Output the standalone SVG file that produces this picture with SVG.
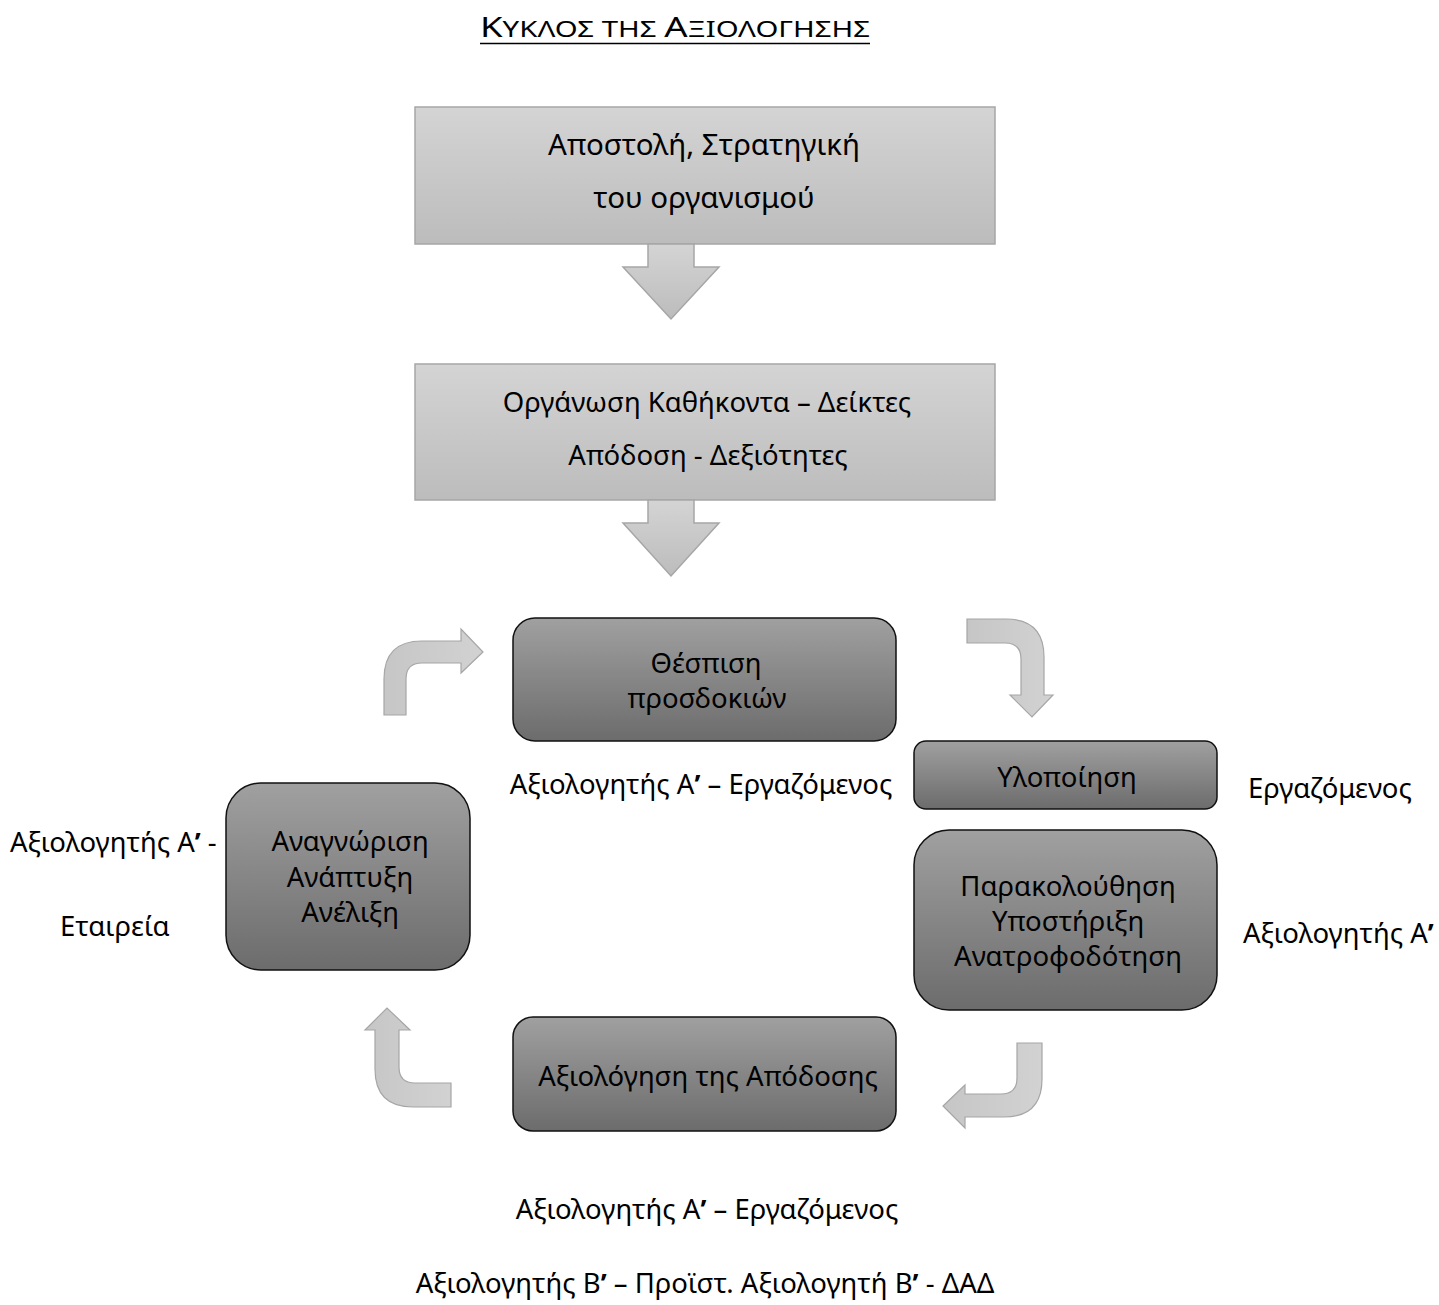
<svg xmlns="http://www.w3.org/2000/svg" width="1439" height="1305" viewBox="0 0 1439 1305">
<defs>
<linearGradient id="gLight" x1="0" y1="0" x2="0" y2="1"><stop offset="0" stop-color="#d4d4d4"/><stop offset="1" stop-color="#bcbcbc"/></linearGradient>
<linearGradient id="gDark" x1="0" y1="0" x2="0" y2="1"><stop offset="0" stop-color="#a0a0a0"/><stop offset="1" stop-color="#6c6c6c"/></linearGradient>
<linearGradient id="gArrow" x1="0" y1="0" x2="1" y2="0"><stop offset="0" stop-color="#c6c6c6"/><stop offset="1" stop-color="#d2d2d2"/></linearGradient>
</defs>
<style>
text{font-family:"Noto Sans","Open Sans","DejaVu Sans",sans-serif;fill:#000;}
.t{font-size:27.5px;text-anchor:middle;}
.t1{font-size:29.5px;text-anchor:middle;}
.l{font-size:27.5px;}
.ap{font-weight:700;}
.light{fill:url(#gLight);stroke:#a6a6a6;stroke-width:1.5;}
.dark{fill:url(#gDark);stroke:#111;stroke-width:1.5;}
.arr{fill:url(#gArrow);stroke:#a6a6a6;stroke-width:1.2;}
</style>
<rect width="1439" height="1305" fill="#fff"/>
<g id="title">
<text x="480" y="37" textLength="390" lengthAdjust="spacingAndGlyphs" style="font-size:28px"><tspan>Κ</tspan><tspan style="font-size:22.5px">ΥΚΛΟΣ ΤΗΣ </tspan><tspan>Α</tspan><tspan style="font-size:22.5px">ΞΙΟΛΟΓΗΣΗΣ</tspan></text>
<line x1="480" y1="43.5" x2="870" y2="43.5" stroke="#000" stroke-width="1.5"/>
</g>
<g id="node-mission">
<rect class="light" x="415" y="107" width="580" height="137"/>
<text class="t1" x="704" y="155">Αποστολή, Στρατηγική</text>
<text class="t1" x="704" y="208">του οργανισμού</text>
</g>
<g id="node-organisation">
<rect class="light" x="415" y="364" width="580" height="136"/>
<text class="t" x="707" y="412">Οργάνωση Καθήκοντα – Δείκτες</text>
<text class="t" x="708" y="465">Απόδοση - Δεξιότητες</text>
</g>
<g id="node-expectations">
<rect class="dark" x="513" y="618" width="383" height="123" rx="22"/>
<text class="t" x="706" y="673">Θέσπιση</text>
<text class="t" x="707" y="708">προσδοκιών</text>
</g>
<g id="node-implementation">
<rect class="dark" x="914" y="741" width="303" height="68" rx="12"/>
<text class="t" x="1067" y="787">Υλοποίηση</text>
</g>
<g id="node-monitoring">
<rect class="dark" x="914" y="830" width="303" height="180" rx="35"/>
<text class="t" x="1068" y="896">Παρακολούθηση</text>
<text class="t" x="1068" y="931">Υποστήριξη</text>
<text class="t" x="1068" y="966">Ανατροφοδότηση</text>
</g>
<g id="node-evaluation">
<rect class="dark" x="513" y="1017" width="383" height="114" rx="20"/>
<text class="t" x="708" y="1086">Αξιολόγηση της Απόδοσης</text>
</g>
<g id="node-recognition">
<rect class="dark" x="226" y="783" width="244" height="187" rx="35"/>
<text class="t" x="350" y="851">Αναγνώριση</text>
<text class="t" x="350" y="887">Ανάπτυξη</text>
<text class="t" x="350" y="922">Ανέλιξη</text>
</g>
<g id="labels">
<text class="l" x="701" y="794" text-anchor="middle">Αξιολογητής Α<tspan class="ap">’</tspan> – Εργαζόμενος</text>
<text class="l" x="1248" y="798">Εργαζόμενος</text>
<text class="l" x="10" y="852">Αξιολογητής Α<tspan class="ap">’</tspan> -</text>
<text class="l" x="60" y="936">Εταιρεία</text>
<text class="l" x="1243" y="943">Αξιολογητής Α<tspan class="ap">’</tspan></text>
<text class="l" x="707" y="1219" text-anchor="middle">Αξιολογητής Α<tspan class="ap">’</tspan> – Εργαζόμενος</text>
<text class="l" x="705" y="1293" text-anchor="middle">Αξιολογητής Β<tspan class="ap">’</tspan> – Προϊστ. Αξιολογητή Β<tspan class="ap">’</tspan> - ΔΑΔ</text>
</g>
<g id="connectors">
<path class="light" d="M648,244 L694,244 L694,267 L719,267 L671,319 L623,267 L648,267 Z"/>
<path class="light" d="M648,500 L694,500 L694,523 L719,523 L671,576 L623,523 L648,523 Z"/>
<path class="arr" d="M384,715 L384,679 Q384,641 422,641 L461,641 L461,629 L483,652 L461,673 L461,663 L422,663 Q406,663 406,679 L406,715 Z"/>
<path class="arr" d="M967,619 L1006,619 Q1044,619 1044,657 L1044,695 L1053,695 L1032,717 L1010,695 L1021,695 L1021,659 Q1021,643 1005,643 L967,643 Z"/>
<path class="arr" d="M1017,1043 L1042,1043 L1042,1079 Q1042,1117 1004,1117 L965,1117 L965,1128 L943,1106 L965,1085 L965,1094 L1001,1094 Q1017,1094 1017,1078 Z"/>
<path class="arr" d="M451,1083 L415,1083 Q399,1083 399,1067 L399,1030 L410,1030 L387,1008 L365,1030 L375,1030 L375,1069 Q375,1107 413,1107 L451,1107 Z"/>
</g>
</svg>
